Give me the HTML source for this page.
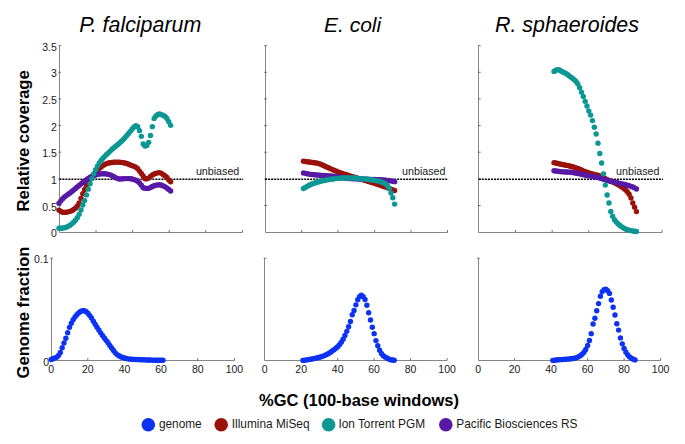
<!DOCTYPE html>
<html><head><meta charset="utf-8"><style>
html,body{margin:0;padding:0;background:#fff;}
svg{display:block;}
text{font-family:"Liberation Sans",sans-serif;fill:#1a1a1a;}
.t{font-size:10.5px;}
.u{font-size:10.7px;}
.ti{font-size:21.4px;font-style:italic;fill:#000;}
.yl{font-size:16.6px;font-weight:bold;fill:#000;}
.xl{font-size:16.5px;font-weight:bold;fill:#000;}
.lg{font-size:11.85px;}
</style></head><body>
<svg width="685" height="444" viewBox="0 0 685 444">
<rect width="685" height="444" fill="#fff"/>
<path d="M59.5 45.4V232.5H242.4" fill="none" stroke="#858585" stroke-width="1"/><path d="M58.4 205.5h2.8M58.4 178.9h2.8M58.4 152.2h2.8M58.4 125.6h2.8M58.4 98.9h2.8M58.4 72.3h2.8M58.4 45.7h2.8M96.0 232.5v-2.5M132.6 232.5v-2.5M169.2 232.5v-2.5M205.8 232.5v-2.5M242.4 232.5v-2.5" stroke="#666" stroke-width="0.9"/><line x1="59.4" y1="179.2" x2="243.2" y2="179.2" stroke="#000" stroke-width="1.4" stroke-dasharray="2 1"/><text x="195.9" y="174.8" class="u">unbiased</text><g fill="#9a120a"><circle cx="59.00" cy="210.12" r="2.7"/><circle cx="60.83" cy="211.38" r="2.7"/><circle cx="62.66" cy="212.18" r="2.7"/><circle cx="64.49" cy="212.39" r="2.7"/><circle cx="66.32" cy="212.21" r="2.7"/><circle cx="68.15" cy="211.84" r="2.7"/><circle cx="69.98" cy="211.36" r="2.7"/><circle cx="71.81" cy="210.67" r="2.7"/><circle cx="73.64" cy="209.57" r="2.7"/><circle cx="75.47" cy="208.15" r="2.7"/><circle cx="77.30" cy="206.07" r="2.7"/><circle cx="79.13" cy="203.07" r="2.7"/><circle cx="80.96" cy="198.33" r="2.7"/><circle cx="82.79" cy="193.75" r="2.7"/><circle cx="84.62" cy="189.47" r="2.7"/><circle cx="86.45" cy="185.50" r="2.7"/><circle cx="88.28" cy="182.16" r="2.7"/><circle cx="90.11" cy="179.32" r="2.7"/><circle cx="91.94" cy="176.93" r="2.7"/><circle cx="93.77" cy="174.61" r="2.7"/><circle cx="95.60" cy="172.32" r="2.7"/><circle cx="97.43" cy="170.33" r="2.7"/><circle cx="99.26" cy="168.59" r="2.7"/><circle cx="101.09" cy="167.02" r="2.7"/><circle cx="102.92" cy="165.58" r="2.7"/><circle cx="104.75" cy="164.49" r="2.7"/><circle cx="106.58" cy="163.60" r="2.7"/><circle cx="108.41" cy="163.02" r="2.7"/><circle cx="110.24" cy="162.72" r="2.7"/><circle cx="112.07" cy="162.46" r="2.7"/><circle cx="113.90" cy="162.27" r="2.7"/><circle cx="115.73" cy="162.14" r="2.7"/><circle cx="117.56" cy="162.10" r="2.7"/><circle cx="119.39" cy="162.19" r="2.7"/><circle cx="121.22" cy="162.40" r="2.7"/><circle cx="123.05" cy="162.70" r="2.7"/><circle cx="124.88" cy="163.03" r="2.7"/><circle cx="126.71" cy="163.53" r="2.7"/><circle cx="128.54" cy="164.21" r="2.7"/><circle cx="130.37" cy="164.95" r="2.7"/><circle cx="132.20" cy="165.65" r="2.7"/><circle cx="134.03" cy="166.36" r="2.7"/><circle cx="135.86" cy="167.26" r="2.7"/><circle cx="137.69" cy="168.79" r="2.7"/><circle cx="139.52" cy="171.09" r="2.7"/><circle cx="141.35" cy="173.47" r="2.7"/><circle cx="143.18" cy="176.03" r="2.7"/><circle cx="145.01" cy="178.79" r="2.7"/><circle cx="146.84" cy="178.80" r="2.7"/><circle cx="148.67" cy="178.11" r="2.7"/><circle cx="150.50" cy="176.57" r="2.7"/><circle cx="152.33" cy="175.07" r="2.7"/><circle cx="154.16" cy="174.04" r="2.7"/><circle cx="155.99" cy="173.34" r="2.7"/><circle cx="157.82" cy="172.84" r="2.7"/><circle cx="159.65" cy="172.60" r="2.7"/><circle cx="161.48" cy="173.35" r="2.7"/><circle cx="163.31" cy="174.80" r="2.7"/><circle cx="165.14" cy="176.00" r="2.7"/><circle cx="166.97" cy="177.47" r="2.7"/><circle cx="168.80" cy="180.03" r="2.7"/><circle cx="170.63" cy="181.78" r="2.7"/></g><g fill="#5719a5"><circle cx="59.00" cy="203.29" r="2.7"/><circle cx="60.83" cy="200.84" r="2.7"/><circle cx="62.66" cy="198.74" r="2.7"/><circle cx="64.49" cy="197.05" r="2.7"/><circle cx="66.32" cy="195.61" r="2.7"/><circle cx="68.15" cy="194.24" r="2.7"/><circle cx="69.98" cy="192.88" r="2.7"/><circle cx="71.81" cy="191.54" r="2.7"/><circle cx="73.64" cy="190.06" r="2.7"/><circle cx="75.47" cy="188.47" r="2.7"/><circle cx="77.30" cy="186.90" r="2.7"/><circle cx="79.13" cy="185.39" r="2.7"/><circle cx="80.96" cy="183.91" r="2.7"/><circle cx="82.79" cy="182.47" r="2.7"/><circle cx="84.62" cy="181.05" r="2.7"/><circle cx="86.45" cy="179.63" r="2.7"/><circle cx="88.28" cy="178.33" r="2.7"/><circle cx="90.11" cy="177.28" r="2.7"/><circle cx="91.94" cy="176.39" r="2.7"/><circle cx="93.77" cy="175.63" r="2.7"/><circle cx="95.60" cy="175.00" r="2.7"/><circle cx="97.43" cy="174.42" r="2.7"/><circle cx="99.26" cy="174.03" r="2.7"/><circle cx="101.09" cy="173.84" r="2.7"/><circle cx="102.92" cy="173.72" r="2.7"/><circle cx="104.75" cy="173.73" r="2.7"/><circle cx="106.58" cy="173.96" r="2.7"/><circle cx="108.41" cy="174.36" r="2.7"/><circle cx="110.24" cy="174.87" r="2.7"/><circle cx="112.07" cy="175.76" r="2.7"/><circle cx="113.90" cy="176.77" r="2.7"/><circle cx="115.73" cy="177.65" r="2.7"/><circle cx="117.56" cy="178.58" r="2.7"/><circle cx="119.39" cy="179.00" r="2.7"/><circle cx="121.22" cy="178.88" r="2.7"/><circle cx="123.05" cy="178.69" r="2.7"/><circle cx="124.88" cy="178.60" r="2.7"/><circle cx="126.71" cy="178.60" r="2.7"/><circle cx="128.54" cy="178.60" r="2.7"/><circle cx="130.37" cy="178.68" r="2.7"/><circle cx="132.20" cy="179.07" r="2.7"/><circle cx="134.03" cy="179.62" r="2.7"/><circle cx="135.86" cy="180.27" r="2.7"/><circle cx="137.69" cy="181.26" r="2.7"/><circle cx="139.52" cy="182.89" r="2.7"/><circle cx="141.35" cy="185.16" r="2.7"/><circle cx="143.18" cy="187.77" r="2.7"/><circle cx="145.01" cy="188.28" r="2.7"/><circle cx="146.84" cy="188.48" r="2.7"/><circle cx="148.67" cy="188.33" r="2.7"/><circle cx="150.50" cy="187.45" r="2.7"/><circle cx="152.33" cy="186.57" r="2.7"/><circle cx="154.16" cy="185.72" r="2.7"/><circle cx="155.99" cy="185.17" r="2.7"/><circle cx="157.82" cy="184.91" r="2.7"/><circle cx="159.65" cy="184.80" r="2.7"/><circle cx="161.48" cy="185.14" r="2.7"/><circle cx="163.31" cy="185.88" r="2.7"/><circle cx="165.14" cy="186.86" r="2.7"/><circle cx="166.97" cy="188.12" r="2.7"/><circle cx="168.80" cy="189.41" r="2.7"/><circle cx="170.63" cy="190.99" r="2.7"/></g><g fill="#0b9793"><circle cx="59.00" cy="228.30" r="2.7"/><circle cx="60.83" cy="228.23" r="2.7"/><circle cx="62.66" cy="228.02" r="2.7"/><circle cx="64.49" cy="227.71" r="2.7"/><circle cx="66.32" cy="227.24" r="2.7"/><circle cx="68.15" cy="226.33" r="2.7"/><circle cx="69.98" cy="225.15" r="2.7"/><circle cx="71.81" cy="223.86" r="2.7"/><circle cx="73.64" cy="222.28" r="2.7"/><circle cx="75.47" cy="220.30" r="2.7"/><circle cx="77.30" cy="217.66" r="2.7"/><circle cx="79.13" cy="214.34" r="2.7"/><circle cx="80.96" cy="209.96" r="2.7"/><circle cx="82.79" cy="205.05" r="2.7"/><circle cx="84.62" cy="200.61" r="2.7"/><circle cx="86.45" cy="194.91" r="2.7"/><circle cx="88.28" cy="189.16" r="2.7"/><circle cx="90.11" cy="183.86" r="2.7"/><circle cx="91.94" cy="178.67" r="2.7"/><circle cx="93.77" cy="173.72" r="2.7"/><circle cx="95.60" cy="169.61" r="2.7"/><circle cx="97.43" cy="166.08" r="2.7"/><circle cx="99.26" cy="163.01" r="2.7"/><circle cx="101.09" cy="160.42" r="2.7"/><circle cx="102.92" cy="158.23" r="2.7"/><circle cx="104.75" cy="156.34" r="2.7"/><circle cx="106.58" cy="154.57" r="2.7"/><circle cx="108.41" cy="152.87" r="2.7"/><circle cx="110.24" cy="151.10" r="2.7"/><circle cx="112.07" cy="149.31" r="2.7"/><circle cx="113.90" cy="147.64" r="2.7"/><circle cx="115.73" cy="146.17" r="2.7"/><circle cx="117.56" cy="144.73" r="2.7"/><circle cx="119.39" cy="143.17" r="2.7"/><circle cx="121.22" cy="141.52" r="2.7"/><circle cx="123.05" cy="139.75" r="2.7"/><circle cx="124.88" cy="137.76" r="2.7"/><circle cx="126.71" cy="135.69" r="2.7"/><circle cx="128.54" cy="133.55" r="2.7"/><circle cx="130.37" cy="131.34" r="2.7"/><circle cx="132.20" cy="128.96" r="2.7"/><circle cx="134.03" cy="126.92" r="2.7"/><circle cx="135.86" cy="125.60" r="2.7"/><circle cx="137.69" cy="126.68" r="2.7"/><circle cx="139.52" cy="130.64" r="2.7"/><circle cx="141.35" cy="136.33" r="2.7"/><circle cx="143.18" cy="143.92" r="2.7"/><circle cx="145.01" cy="145.96" r="2.7"/><circle cx="146.84" cy="145.53" r="2.7"/><circle cx="148.67" cy="142.37" r="2.7"/><circle cx="150.50" cy="135.54" r="2.7"/><circle cx="152.33" cy="126.65" r="2.7"/><circle cx="154.16" cy="118.40" r="2.7"/><circle cx="155.99" cy="115.92" r="2.7"/><circle cx="157.82" cy="114.45" r="2.7"/><circle cx="159.65" cy="113.91" r="2.7"/><circle cx="161.48" cy="114.58" r="2.7"/><circle cx="163.31" cy="115.48" r="2.7"/><circle cx="165.14" cy="116.52" r="2.7"/><circle cx="166.97" cy="118.45" r="2.7"/><circle cx="168.80" cy="121.70" r="2.7"/><circle cx="170.63" cy="125.35" r="2.7"/></g><text x="56.8" y="237.2" class="t" text-anchor="end">0</text><text x="56.8" y="210.5" class="t" text-anchor="end">0.5</text><text x="56.8" y="183.9" class="t" text-anchor="end">1</text><text x="56.8" y="157.2" class="t" text-anchor="end">1.5</text><text x="56.8" y="130.6" class="t" text-anchor="end">2</text><text x="56.8" y="103.9" class="t" text-anchor="end">2.5</text><text x="56.8" y="77.3" class="t" text-anchor="end">3</text><text x="56.8" y="50.7" class="t" text-anchor="end">3.5</text><path d="M265.5 45.4V232.5H447.5" fill="none" stroke="#858585" stroke-width="1"/><path d="M264.2 205.5h2.8M264.2 178.9h2.8M264.2 152.2h2.8M264.2 125.6h2.8M264.2 98.9h2.8M264.2 72.3h2.8M264.2 45.7h2.8M301.7 232.5v-2.5M338.1 232.5v-2.5M374.6 232.5v-2.5M411.0 232.5v-2.5M447.5 232.5v-2.5" stroke="#666" stroke-width="0.9"/><line x1="265.2" y1="179.2" x2="448.3" y2="179.2" stroke="#000" stroke-width="1.4" stroke-dasharray="2 1"/><text x="402.1" y="174.8" class="u">unbiased</text><g fill="#9a120a"><circle cx="303.48" cy="161.16" r="2.7"/><circle cx="305.31" cy="161.45" r="2.7"/><circle cx="307.13" cy="161.73" r="2.7"/><circle cx="308.95" cy="162.01" r="2.7"/><circle cx="310.77" cy="162.28" r="2.7"/><circle cx="312.60" cy="162.52" r="2.7"/><circle cx="314.42" cy="162.75" r="2.7"/><circle cx="316.24" cy="163.01" r="2.7"/><circle cx="318.07" cy="163.35" r="2.7"/><circle cx="319.89" cy="163.88" r="2.7"/><circle cx="321.71" cy="164.65" r="2.7"/><circle cx="323.54" cy="165.53" r="2.7"/><circle cx="325.36" cy="166.38" r="2.7"/><circle cx="327.18" cy="167.19" r="2.7"/><circle cx="329.00" cy="168.01" r="2.7"/><circle cx="330.83" cy="168.84" r="2.7"/><circle cx="332.65" cy="169.64" r="2.7"/><circle cx="334.47" cy="170.41" r="2.7"/><circle cx="336.30" cy="171.16" r="2.7"/><circle cx="338.12" cy="171.89" r="2.7"/><circle cx="339.94" cy="172.59" r="2.7"/><circle cx="341.77" cy="173.26" r="2.7"/><circle cx="343.59" cy="173.88" r="2.7"/><circle cx="345.41" cy="174.47" r="2.7"/><circle cx="347.24" cy="175.04" r="2.7"/><circle cx="349.06" cy="175.61" r="2.7"/><circle cx="350.88" cy="176.17" r="2.7"/><circle cx="352.70" cy="176.72" r="2.7"/><circle cx="354.53" cy="177.26" r="2.7"/><circle cx="356.35" cy="177.80" r="2.7"/><circle cx="358.17" cy="178.33" r="2.7"/><circle cx="360.00" cy="178.87" r="2.7"/><circle cx="361.82" cy="179.42" r="2.7"/><circle cx="363.64" cy="179.98" r="2.7"/><circle cx="365.47" cy="180.54" r="2.7"/><circle cx="367.29" cy="181.09" r="2.7"/><circle cx="369.11" cy="181.64" r="2.7"/><circle cx="370.93" cy="182.20" r="2.7"/><circle cx="372.76" cy="182.78" r="2.7"/><circle cx="374.58" cy="183.36" r="2.7"/><circle cx="376.40" cy="183.96" r="2.7"/><circle cx="378.23" cy="184.57" r="2.7"/><circle cx="380.05" cy="185.18" r="2.7"/><circle cx="381.87" cy="185.80" r="2.7"/><circle cx="383.69" cy="186.44" r="2.7"/><circle cx="385.52" cy="187.09" r="2.7"/><circle cx="387.34" cy="187.76" r="2.7"/><circle cx="389.16" cy="188.45" r="2.7"/><circle cx="390.99" cy="189.14" r="2.7"/><circle cx="392.81" cy="189.83" r="2.7"/><circle cx="394.63" cy="190.54" r="2.7"/></g><g fill="#5719a5"><circle cx="303.48" cy="172.90" r="2.7"/><circle cx="305.31" cy="173.35" r="2.7"/><circle cx="307.13" cy="173.76" r="2.7"/><circle cx="308.95" cy="174.11" r="2.7"/><circle cx="310.77" cy="174.38" r="2.7"/><circle cx="312.60" cy="174.60" r="2.7"/><circle cx="314.42" cy="174.79" r="2.7"/><circle cx="316.24" cy="174.96" r="2.7"/><circle cx="318.07" cy="175.12" r="2.7"/><circle cx="319.89" cy="175.27" r="2.7"/><circle cx="321.71" cy="175.41" r="2.7"/><circle cx="323.54" cy="175.52" r="2.7"/><circle cx="325.36" cy="175.63" r="2.7"/><circle cx="327.18" cy="175.75" r="2.7"/><circle cx="329.00" cy="175.87" r="2.7"/><circle cx="330.83" cy="176.03" r="2.7"/><circle cx="332.65" cy="176.24" r="2.7"/><circle cx="334.47" cy="176.49" r="2.7"/><circle cx="336.30" cy="176.77" r="2.7"/><circle cx="338.12" cy="177.05" r="2.7"/><circle cx="339.94" cy="177.31" r="2.7"/><circle cx="341.77" cy="177.55" r="2.7"/><circle cx="343.59" cy="177.80" r="2.7"/><circle cx="345.41" cy="178.05" r="2.7"/><circle cx="347.24" cy="178.28" r="2.7"/><circle cx="349.06" cy="178.47" r="2.7"/><circle cx="350.88" cy="178.61" r="2.7"/><circle cx="352.70" cy="178.71" r="2.7"/><circle cx="354.53" cy="178.79" r="2.7"/><circle cx="356.35" cy="178.86" r="2.7"/><circle cx="358.17" cy="178.93" r="2.7"/><circle cx="360.00" cy="179.00" r="2.7"/><circle cx="361.82" cy="179.07" r="2.7"/><circle cx="363.64" cy="179.15" r="2.7"/><circle cx="365.47" cy="179.22" r="2.7"/><circle cx="367.29" cy="179.29" r="2.7"/><circle cx="369.11" cy="179.36" r="2.7"/><circle cx="370.93" cy="179.44" r="2.7"/><circle cx="372.76" cy="179.50" r="2.7"/><circle cx="374.58" cy="179.57" r="2.7"/><circle cx="376.40" cy="179.64" r="2.7"/><circle cx="378.23" cy="179.71" r="2.7"/><circle cx="380.05" cy="179.80" r="2.7"/><circle cx="381.87" cy="179.90" r="2.7"/><circle cx="383.69" cy="180.02" r="2.7"/><circle cx="385.52" cy="180.16" r="2.7"/><circle cx="387.34" cy="180.34" r="2.7"/><circle cx="389.16" cy="180.58" r="2.7"/><circle cx="390.99" cy="180.88" r="2.7"/><circle cx="392.81" cy="181.25" r="2.7"/><circle cx="394.63" cy="181.65" r="2.7"/></g><g fill="#0b9793"><circle cx="303.48" cy="188.55" r="2.7"/><circle cx="305.31" cy="187.40" r="2.7"/><circle cx="307.13" cy="186.34" r="2.7"/><circle cx="308.95" cy="185.38" r="2.7"/><circle cx="310.77" cy="184.55" r="2.7"/><circle cx="312.60" cy="183.81" r="2.7"/><circle cx="314.42" cy="183.13" r="2.7"/><circle cx="316.24" cy="182.52" r="2.7"/><circle cx="318.07" cy="181.97" r="2.7"/><circle cx="319.89" cy="181.46" r="2.7"/><circle cx="321.71" cy="181.00" r="2.7"/><circle cx="323.54" cy="180.58" r="2.7"/><circle cx="325.36" cy="180.20" r="2.7"/><circle cx="327.18" cy="179.85" r="2.7"/><circle cx="329.00" cy="179.52" r="2.7"/><circle cx="330.83" cy="179.22" r="2.7"/><circle cx="332.65" cy="178.94" r="2.7"/><circle cx="334.47" cy="178.71" r="2.7"/><circle cx="336.30" cy="178.52" r="2.7"/><circle cx="338.12" cy="178.35" r="2.7"/><circle cx="339.94" cy="178.18" r="2.7"/><circle cx="341.77" cy="178.04" r="2.7"/><circle cx="343.59" cy="177.94" r="2.7"/><circle cx="345.41" cy="177.90" r="2.7"/><circle cx="347.24" cy="177.90" r="2.7"/><circle cx="349.06" cy="177.90" r="2.7"/><circle cx="350.88" cy="177.90" r="2.7"/><circle cx="352.70" cy="177.94" r="2.7"/><circle cx="354.53" cy="178.06" r="2.7"/><circle cx="356.35" cy="178.23" r="2.7"/><circle cx="358.17" cy="178.41" r="2.7"/><circle cx="360.00" cy="178.59" r="2.7"/><circle cx="361.82" cy="178.76" r="2.7"/><circle cx="363.64" cy="178.93" r="2.7"/><circle cx="365.47" cy="179.12" r="2.7"/><circle cx="367.29" cy="179.32" r="2.7"/><circle cx="369.11" cy="179.55" r="2.7"/><circle cx="370.93" cy="179.79" r="2.7"/><circle cx="372.76" cy="180.05" r="2.7"/><circle cx="374.58" cy="180.34" r="2.7"/><circle cx="376.40" cy="180.67" r="2.7"/><circle cx="378.23" cy="181.06" r="2.7"/><circle cx="380.05" cy="181.56" r="2.7"/><circle cx="381.87" cy="182.19" r="2.7"/><circle cx="383.69" cy="182.92" r="2.7"/><circle cx="385.52" cy="183.81" r="2.7"/><circle cx="387.34" cy="185.56" r="2.7"/><circle cx="389.16" cy="188.38" r="2.7"/><circle cx="390.99" cy="192.98" r="2.7"/><circle cx="392.81" cy="197.74" r="2.7"/><circle cx="394.63" cy="204.11" r="2.7"/></g><path d="M478.5 45.4V232.5H662.1" fill="none" stroke="#858585" stroke-width="1"/><path d="M477.9 205.5h2.8M477.9 178.9h2.8M477.9 152.2h2.8M477.9 125.6h2.8M477.9 98.9h2.8M477.9 72.3h2.8M477.9 45.7h2.8M515.5 232.5v-2.5M552.2 232.5v-2.5M588.8 232.5v-2.5M625.5 232.5v-2.5M662.1 232.5v-2.5" stroke="#666" stroke-width="0.9"/><line x1="478.9" y1="179.2" x2="662.9" y2="179.2" stroke="#000" stroke-width="1.4" stroke-dasharray="2 1"/><text x="616.1" y="174.8" class="u">unbiased</text><g fill="#9a120a"><circle cx="554.01" cy="162.64" r="2.7"/><circle cx="555.84" cy="163.06" r="2.7"/><circle cx="557.68" cy="163.48" r="2.7"/><circle cx="559.51" cy="163.89" r="2.7"/><circle cx="561.34" cy="164.29" r="2.7"/><circle cx="563.17" cy="164.68" r="2.7"/><circle cx="565.00" cy="165.05" r="2.7"/><circle cx="566.84" cy="165.41" r="2.7"/><circle cx="568.67" cy="165.79" r="2.7"/><circle cx="570.50" cy="166.23" r="2.7"/><circle cx="572.33" cy="166.73" r="2.7"/><circle cx="574.16" cy="167.29" r="2.7"/><circle cx="576.00" cy="167.91" r="2.7"/><circle cx="577.83" cy="168.56" r="2.7"/><circle cx="579.66" cy="169.25" r="2.7"/><circle cx="581.49" cy="170.05" r="2.7"/><circle cx="583.32" cy="170.87" r="2.7"/><circle cx="585.16" cy="171.63" r="2.7"/><circle cx="586.99" cy="172.30" r="2.7"/><circle cx="588.82" cy="172.92" r="2.7"/><circle cx="590.65" cy="173.50" r="2.7"/><circle cx="592.48" cy="174.04" r="2.7"/><circle cx="594.32" cy="174.50" r="2.7"/><circle cx="596.15" cy="174.90" r="2.7"/><circle cx="597.98" cy="175.31" r="2.7"/><circle cx="599.81" cy="175.84" r="2.7"/><circle cx="601.64" cy="176.67" r="2.7"/><circle cx="603.48" cy="177.78" r="2.7"/><circle cx="605.31" cy="178.80" r="2.7"/><circle cx="607.14" cy="179.65" r="2.7"/><circle cx="608.97" cy="180.43" r="2.7"/><circle cx="610.80" cy="181.19" r="2.7"/><circle cx="612.64" cy="181.96" r="2.7"/><circle cx="614.47" cy="182.79" r="2.7"/><circle cx="616.30" cy="183.71" r="2.7"/><circle cx="618.13" cy="184.67" r="2.7"/><circle cx="619.96" cy="185.71" r="2.7"/><circle cx="621.80" cy="186.88" r="2.7"/><circle cx="623.63" cy="188.23" r="2.7"/><circle cx="625.46" cy="189.85" r="2.7"/><circle cx="627.29" cy="191.77" r="2.7"/><circle cx="629.12" cy="194.14" r="2.7"/><circle cx="630.96" cy="197.89" r="2.7"/><circle cx="632.79" cy="202.96" r="2.7"/><circle cx="634.62" cy="207.28" r="2.7"/><circle cx="636.45" cy="211.59" r="2.7"/></g><g fill="#5719a5"><circle cx="554.01" cy="170.77" r="2.7"/><circle cx="555.84" cy="171.05" r="2.7"/><circle cx="557.68" cy="171.30" r="2.7"/><circle cx="559.51" cy="171.52" r="2.7"/><circle cx="561.34" cy="171.72" r="2.7"/><circle cx="563.17" cy="171.87" r="2.7"/><circle cx="565.00" cy="171.98" r="2.7"/><circle cx="566.84" cy="172.07" r="2.7"/><circle cx="568.67" cy="172.17" r="2.7"/><circle cx="570.50" cy="172.31" r="2.7"/><circle cx="572.33" cy="172.52" r="2.7"/><circle cx="574.16" cy="172.80" r="2.7"/><circle cx="576.00" cy="173.13" r="2.7"/><circle cx="577.83" cy="173.47" r="2.7"/><circle cx="579.66" cy="173.84" r="2.7"/><circle cx="581.49" cy="174.26" r="2.7"/><circle cx="583.32" cy="174.70" r="2.7"/><circle cx="585.16" cy="175.11" r="2.7"/><circle cx="586.99" cy="175.45" r="2.7"/><circle cx="588.82" cy="175.75" r="2.7"/><circle cx="590.65" cy="176.04" r="2.7"/><circle cx="592.48" cy="176.36" r="2.7"/><circle cx="594.32" cy="176.73" r="2.7"/><circle cx="596.15" cy="177.14" r="2.7"/><circle cx="597.98" cy="177.58" r="2.7"/><circle cx="599.81" cy="178.05" r="2.7"/><circle cx="601.64" cy="178.59" r="2.7"/><circle cx="603.48" cy="179.20" r="2.7"/><circle cx="605.31" cy="179.76" r="2.7"/><circle cx="607.14" cy="180.24" r="2.7"/><circle cx="608.97" cy="180.69" r="2.7"/><circle cx="610.80" cy="181.13" r="2.7"/><circle cx="612.64" cy="181.56" r="2.7"/><circle cx="614.47" cy="181.99" r="2.7"/><circle cx="616.30" cy="182.45" r="2.7"/><circle cx="618.13" cy="182.91" r="2.7"/><circle cx="619.96" cy="183.36" r="2.7"/><circle cx="621.80" cy="183.83" r="2.7"/><circle cx="623.63" cy="184.31" r="2.7"/><circle cx="625.46" cy="184.82" r="2.7"/><circle cx="627.29" cy="185.32" r="2.7"/><circle cx="629.12" cy="185.81" r="2.7"/><circle cx="630.96" cy="186.36" r="2.7"/><circle cx="632.79" cy="187.01" r="2.7"/><circle cx="634.62" cy="187.86" r="2.7"/><circle cx="636.45" cy="189.00" r="2.7"/></g><g fill="#0b9793"><circle cx="554.01" cy="71.38" r="2.7"/><circle cx="555.84" cy="70.26" r="2.7"/><circle cx="557.68" cy="69.65" r="2.7"/><circle cx="559.51" cy="69.98" r="2.7"/><circle cx="561.34" cy="71.18" r="2.7"/><circle cx="563.17" cy="72.17" r="2.7"/><circle cx="565.00" cy="73.01" r="2.7"/><circle cx="566.84" cy="74.04" r="2.7"/><circle cx="568.67" cy="75.41" r="2.7"/><circle cx="570.50" cy="76.85" r="2.7"/><circle cx="572.33" cy="78.15" r="2.7"/><circle cx="574.16" cy="79.59" r="2.7"/><circle cx="576.00" cy="81.46" r="2.7"/><circle cx="577.83" cy="83.98" r="2.7"/><circle cx="579.66" cy="87.65" r="2.7"/><circle cx="581.49" cy="92.13" r="2.7"/><circle cx="583.32" cy="96.38" r="2.7"/><circle cx="585.16" cy="101.34" r="2.7"/><circle cx="586.99" cy="106.06" r="2.7"/><circle cx="588.82" cy="110.89" r="2.7"/><circle cx="590.65" cy="115.08" r="2.7"/><circle cx="592.48" cy="120.58" r="2.7"/><circle cx="594.32" cy="127.26" r="2.7"/><circle cx="596.15" cy="134.06" r="2.7"/><circle cx="597.98" cy="143.13" r="2.7"/><circle cx="599.81" cy="153.54" r="2.7"/><circle cx="601.64" cy="162.99" r="2.7"/><circle cx="603.48" cy="173.85" r="2.7"/><circle cx="605.31" cy="185.12" r="2.7"/><circle cx="607.14" cy="195.01" r="2.7"/><circle cx="608.97" cy="203.02" r="2.7"/><circle cx="610.80" cy="211.39" r="2.7"/><circle cx="612.64" cy="216.16" r="2.7"/><circle cx="614.47" cy="219.71" r="2.7"/><circle cx="616.30" cy="222.12" r="2.7"/><circle cx="618.13" cy="223.91" r="2.7"/><circle cx="619.96" cy="225.45" r="2.7"/><circle cx="621.80" cy="226.87" r="2.7"/><circle cx="623.63" cy="228.06" r="2.7"/><circle cx="625.46" cy="228.91" r="2.7"/><circle cx="627.29" cy="229.62" r="2.7"/><circle cx="629.12" cy="230.18" r="2.7"/><circle cx="630.96" cy="230.62" r="2.7"/><circle cx="632.79" cy="230.99" r="2.7"/><circle cx="634.62" cy="231.30" r="2.7"/><circle cx="636.45" cy="231.50" r="2.7"/></g><path d="M51.5 258.2V360.5H234.4" fill="none" stroke="#858585" stroke-width="1"/><path d="M50.2 258.2h2.8M87.8 360.5v-2.5M124.5 360.5v-2.5M161.1 360.5v-2.5M197.8 360.5v-2.5M234.4 360.5v-2.5" stroke="#666" stroke-width="0.9"/><g fill="#0c32f4"><circle cx="51.20" cy="359.50" r="2.7"/><circle cx="53.03" cy="358.82" r="2.7"/><circle cx="54.86" cy="358.07" r="2.7"/><circle cx="56.70" cy="357.20" r="2.7"/><circle cx="58.53" cy="355.57" r="2.7"/><circle cx="60.36" cy="352.54" r="2.7"/><circle cx="62.19" cy="347.65" r="2.7"/><circle cx="64.02" cy="342.88" r="2.7"/><circle cx="65.86" cy="338.19" r="2.7"/><circle cx="67.69" cy="332.73" r="2.7"/><circle cx="69.52" cy="327.34" r="2.7"/><circle cx="71.35" cy="323.19" r="2.7"/><circle cx="73.18" cy="319.69" r="2.7"/><circle cx="75.02" cy="316.99" r="2.7"/><circle cx="76.85" cy="314.79" r="2.7"/><circle cx="78.68" cy="312.86" r="2.7"/><circle cx="80.51" cy="311.51" r="2.7"/><circle cx="82.34" cy="310.68" r="2.7"/><circle cx="84.18" cy="310.76" r="2.7"/><circle cx="86.01" cy="311.50" r="2.7"/><circle cx="87.84" cy="313.24" r="2.7"/><circle cx="89.67" cy="315.44" r="2.7"/><circle cx="91.50" cy="318.06" r="2.7"/><circle cx="93.34" cy="321.17" r="2.7"/><circle cx="95.17" cy="324.21" r="2.7"/><circle cx="97.00" cy="327.15" r="2.7"/><circle cx="98.83" cy="330.03" r="2.7"/><circle cx="100.66" cy="332.86" r="2.7"/><circle cx="102.50" cy="335.57" r="2.7"/><circle cx="104.33" cy="338.04" r="2.7"/><circle cx="106.16" cy="340.36" r="2.7"/><circle cx="107.99" cy="342.76" r="2.7"/><circle cx="109.82" cy="345.40" r="2.7"/><circle cx="111.66" cy="348.06" r="2.7"/><circle cx="113.49" cy="350.50" r="2.7"/><circle cx="115.32" cy="352.87" r="2.7"/><circle cx="117.15" cy="354.60" r="2.7"/><circle cx="118.98" cy="355.75" r="2.7"/><circle cx="120.82" cy="356.68" r="2.7"/><circle cx="122.65" cy="357.42" r="2.7"/><circle cx="124.48" cy="357.99" r="2.7"/><circle cx="126.31" cy="358.46" r="2.7"/><circle cx="128.14" cy="358.85" r="2.7"/><circle cx="129.98" cy="359.13" r="2.7"/><circle cx="131.81" cy="359.28" r="2.7"/><circle cx="133.64" cy="359.40" r="2.7"/><circle cx="135.47" cy="359.49" r="2.7"/><circle cx="137.30" cy="359.56" r="2.7"/><circle cx="139.14" cy="359.63" r="2.7"/><circle cx="140.97" cy="359.70" r="2.7"/><circle cx="142.80" cy="359.78" r="2.7"/><circle cx="144.63" cy="359.87" r="2.7"/><circle cx="146.46" cy="359.95" r="2.7"/><circle cx="148.30" cy="360.02" r="2.7"/><circle cx="150.13" cy="360.07" r="2.7"/><circle cx="151.96" cy="360.12" r="2.7"/><circle cx="153.79" cy="360.16" r="2.7"/><circle cx="155.62" cy="360.20" r="2.7"/><circle cx="157.46" cy="360.23" r="2.7"/><circle cx="159.29" cy="360.26" r="2.7"/><circle cx="161.12" cy="360.28" r="2.7"/><circle cx="162.95" cy="360.30" r="2.7"/></g><text x="51.2" y="372.6" class="t" text-anchor="middle">0</text><text x="87.8" y="372.6" class="t" text-anchor="middle">20</text><text x="124.5" y="372.6" class="t" text-anchor="middle">40</text><text x="161.1" y="372.6" class="t" text-anchor="middle">60</text><text x="197.8" y="372.6" class="t" text-anchor="middle">80</text><text x="234.4" y="372.6" class="t" text-anchor="middle">100</text><text x="48.5" y="263.3" class="t" text-anchor="end">0.1</text><text x="49.1" y="365.6" class="t" text-anchor="end">0</text><path d="M264.5 258.2V360.5H447.1" fill="none" stroke="#858585" stroke-width="1"/><path d="M263.7 258.2h2.8M301.2 360.5v-2.5M337.7 360.5v-2.5M374.1 360.5v-2.5M410.6 360.5v-2.5M447.1 360.5v-2.5" stroke="#666" stroke-width="0.9"/><g fill="#0c32f4"><circle cx="303.00" cy="360.38" r="2.7"/><circle cx="304.83" cy="360.14" r="2.7"/><circle cx="306.65" cy="359.89" r="2.7"/><circle cx="308.48" cy="359.60" r="2.7"/><circle cx="310.30" cy="359.30" r="2.7"/><circle cx="312.12" cy="358.96" r="2.7"/><circle cx="313.95" cy="358.59" r="2.7"/><circle cx="315.77" cy="358.19" r="2.7"/><circle cx="317.60" cy="357.76" r="2.7"/><circle cx="319.42" cy="357.29" r="2.7"/><circle cx="321.24" cy="356.75" r="2.7"/><circle cx="323.07" cy="356.12" r="2.7"/><circle cx="324.89" cy="355.37" r="2.7"/><circle cx="326.72" cy="354.51" r="2.7"/><circle cx="328.54" cy="353.55" r="2.7"/><circle cx="330.36" cy="352.41" r="2.7"/><circle cx="332.19" cy="351.07" r="2.7"/><circle cx="334.01" cy="349.65" r="2.7"/><circle cx="335.84" cy="348.25" r="2.7"/><circle cx="337.66" cy="346.73" r="2.7"/><circle cx="339.48" cy="344.79" r="2.7"/><circle cx="341.31" cy="342.25" r="2.7"/><circle cx="343.13" cy="339.23" r="2.7"/><circle cx="344.96" cy="335.46" r="2.7"/><circle cx="346.78" cy="331.33" r="2.7"/><circle cx="348.60" cy="326.79" r="2.7"/><circle cx="350.43" cy="321.53" r="2.7"/><circle cx="352.25" cy="314.74" r="2.7"/><circle cx="354.08" cy="310.55" r="2.7"/><circle cx="355.90" cy="304.86" r="2.7"/><circle cx="357.72" cy="299.73" r="2.7"/><circle cx="359.55" cy="296.64" r="2.7"/><circle cx="361.37" cy="295.20" r="2.7"/><circle cx="363.20" cy="296.59" r="2.7"/><circle cx="365.02" cy="299.52" r="2.7"/><circle cx="366.84" cy="305.20" r="2.7"/><circle cx="368.67" cy="312.79" r="2.7"/><circle cx="370.49" cy="320.07" r="2.7"/><circle cx="372.32" cy="327.26" r="2.7"/><circle cx="374.14" cy="333.66" r="2.7"/><circle cx="375.96" cy="340.62" r="2.7"/><circle cx="377.79" cy="345.68" r="2.7"/><circle cx="379.61" cy="350.19" r="2.7"/><circle cx="381.44" cy="353.49" r="2.7"/><circle cx="383.26" cy="355.78" r="2.7"/><circle cx="385.08" cy="357.08" r="2.7"/><circle cx="386.91" cy="358.04" r="2.7"/><circle cx="388.73" cy="359.07" r="2.7"/><circle cx="390.56" cy="359.72" r="2.7"/><circle cx="392.38" cy="360.04" r="2.7"/><circle cx="394.20" cy="360.24" r="2.7"/></g><text x="264.7" y="372.6" class="t" text-anchor="middle">0</text><text x="301.2" y="372.6" class="t" text-anchor="middle">20</text><text x="337.7" y="372.6" class="t" text-anchor="middle">40</text><text x="374.1" y="372.6" class="t" text-anchor="middle">60</text><text x="410.6" y="372.6" class="t" text-anchor="middle">80</text><text x="447.1" y="372.6" class="t" text-anchor="middle">100</text><path d="M478.5 258.2V360.5H660.6" fill="none" stroke="#858585" stroke-width="1"/><path d="M477.1 258.2h2.8M514.6 360.5v-2.5M551.1 360.5v-2.5M587.6 360.5v-2.5M624.1 360.5v-2.5M660.6 360.5v-2.5" stroke="#666" stroke-width="0.9"/><g fill="#0c32f4"><circle cx="552.93" cy="360.41" r="2.7"/><circle cx="554.75" cy="360.20" r="2.7"/><circle cx="556.58" cy="360.00" r="2.7"/><circle cx="558.40" cy="359.81" r="2.7"/><circle cx="560.23" cy="359.64" r="2.7"/><circle cx="562.05" cy="359.49" r="2.7"/><circle cx="563.88" cy="359.37" r="2.7"/><circle cx="565.70" cy="359.25" r="2.7"/><circle cx="567.52" cy="359.12" r="2.7"/><circle cx="569.35" cy="358.94" r="2.7"/><circle cx="571.18" cy="358.74" r="2.7"/><circle cx="573.00" cy="358.48" r="2.7"/><circle cx="574.83" cy="358.14" r="2.7"/><circle cx="576.65" cy="357.59" r="2.7"/><circle cx="578.48" cy="356.74" r="2.7"/><circle cx="580.30" cy="355.67" r="2.7"/><circle cx="582.12" cy="354.25" r="2.7"/><circle cx="583.95" cy="352.31" r="2.7"/><circle cx="585.77" cy="349.47" r="2.7"/><circle cx="587.60" cy="345.40" r="2.7"/><circle cx="589.43" cy="340.55" r="2.7"/><circle cx="591.25" cy="333.63" r="2.7"/><circle cx="593.08" cy="323.93" r="2.7"/><circle cx="594.90" cy="318.30" r="2.7"/><circle cx="596.73" cy="310.82" r="2.7"/><circle cx="598.55" cy="303.60" r="2.7"/><circle cx="600.38" cy="296.18" r="2.7"/><circle cx="602.20" cy="291.60" r="2.7"/><circle cx="604.02" cy="289.78" r="2.7"/><circle cx="605.85" cy="289.24" r="2.7"/><circle cx="607.67" cy="290.63" r="2.7"/><circle cx="609.50" cy="293.41" r="2.7"/><circle cx="611.33" cy="300.05" r="2.7"/><circle cx="613.15" cy="307.25" r="2.7"/><circle cx="614.98" cy="314.94" r="2.7"/><circle cx="616.80" cy="323.78" r="2.7"/><circle cx="618.62" cy="330.08" r="2.7"/><circle cx="620.45" cy="337.91" r="2.7"/><circle cx="622.27" cy="343.87" r="2.7"/><circle cx="624.10" cy="348.42" r="2.7"/><circle cx="625.92" cy="352.31" r="2.7"/><circle cx="627.75" cy="355.05" r="2.7"/><circle cx="629.58" cy="356.93" r="2.7"/><circle cx="631.40" cy="358.25" r="2.7"/><circle cx="633.23" cy="359.19" r="2.7"/><circle cx="635.05" cy="359.88" r="2.7"/></g><text x="478.1" y="372.6" class="t" text-anchor="middle">0</text><text x="514.6" y="372.6" class="t" text-anchor="middle">20</text><text x="551.1" y="372.6" class="t" text-anchor="middle">40</text><text x="587.6" y="372.6" class="t" text-anchor="middle">60</text><text x="624.1" y="372.6" class="t" text-anchor="middle">80</text><text x="660.6" y="372.6" class="t" text-anchor="middle">100</text><text x="79.2" y="32" class="ti">P. falciparum</text><text x="324.0" y="32" class="ti" style="font-size:21px">E. coli</text><text x="495.0" y="32" class="ti">R. sphaeroides</text><text transform="translate(28.6 211.4) rotate(-90)" class="yl">Relative coverage</text><text transform="translate(28.9 378.4) rotate(-90)" class="yl">Genome fraction</text><text x="259.1" y="406.3" class="xl">%GC (100-base windows)</text><circle cx="148.3" cy="424.7" r="6.8" fill="#0c32f4"/><text x="158.9" y="427.8" class="lg">genome</text><circle cx="221.2" cy="424.7" r="6.8" fill="#9a120a"/><text x="231.8" y="427.8" class="lg">Illumina MiSeq</text><circle cx="328.6" cy="424.7" r="6.8" fill="#0b9793"/><text x="338.4" y="427.8" class="lg">Ion Torrent PGM</text><circle cx="445.8" cy="424.7" r="6.8" fill="#5719a5"/><text x="456.3" y="427.8" class="lg">Pacific Biosciences RS</text>
</svg>
</body></html>
